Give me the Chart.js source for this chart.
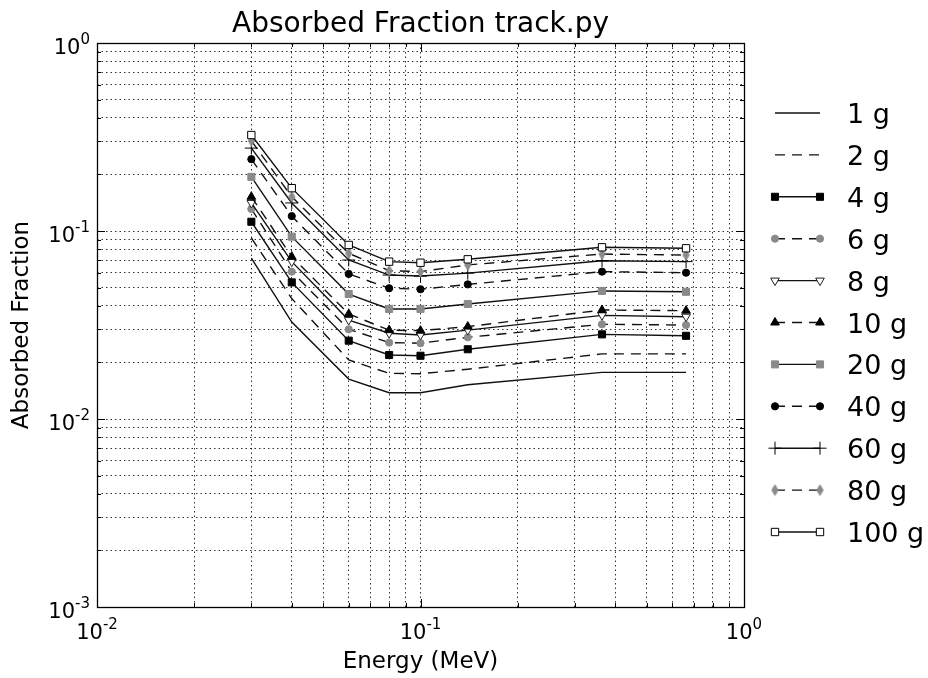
<!DOCTYPE html>
<html>
<head>
<meta charset="utf-8">
<script src="https://cdn.jsdelivr.net/npm/chart.js@4/dist/chart.umd.min.js"></script>
<style>
html,body{margin:0;padding:0;background:#fff;}
canvas{display:block;}
</style>
</head>
<body>
<canvas id="c" width="928" height="678"></canvas>
<script>
// ---------- DATA ----------
const energies = [0.03, 0.04, 0.06, 0.08, 0.1, 0.14, 0.364, 0.662];
const seriesNames = ['1 g','2 g','4 g','6 g','8 g','10 g','20 g','40 g','60 g','80 g','100 g'];
const af1g   = [0.0718, 0.0328, 0.0163, 0.0138, 0.0138, 0.0152, 0.0177, 0.0177];
const af2g   = [0.0918, 0.0437, 0.0206, 0.0175, 0.0174, 0.0184, 0.0222, 0.0222];
const af4g   = [0.112, 0.0533, 0.0261, 0.0219, 0.0217, 0.0235, 0.0282, 0.0277];
const af6g   = [0.131, 0.0608, 0.0300, 0.0255, 0.0253, 0.0272, 0.0319, 0.0316];
const af8g   = [0.141, 0.0687, 0.0336, 0.0286, 0.0280, 0.0297, 0.0356, 0.0350];
const af10g  = [0.152, 0.0730, 0.0362, 0.0297, 0.0295, 0.0310, 0.0380, 0.0377];
const af20g  = [0.194, 0.0933, 0.0462, 0.0385, 0.0385, 0.0409, 0.0480, 0.0475];
const af40g  = [0.241, 0.120, 0.0591, 0.0496, 0.0490, 0.0520, 0.0608, 0.0600];
const af60g  = [0.276, 0.141, 0.0701, 0.0583, 0.0576, 0.0597, 0.0695, 0.0687];
const af80g  = [0.302, 0.152, 0.0761, 0.0615, 0.0608, 0.0660, 0.0754, 0.0745];
const af100g = [0.324, 0.169, 0.0843, 0.0687, 0.0678, 0.0707, 0.0819, 0.0809];
const seriesValues = [af1g, af2g, af4g, af6g, af8g, af10g, af20g, af40g, af60g, af80g, af100g];

const xTickValues = [0.01, 0.1, 1];
const xTickBase   = ['10', '10', '10'];
const xTickExp    = ['-2', '-1', '0'];
const yTickValues = [0.001, 0.01, 0.1, 1];
const yTickBase   = ['10', '10', '10', '10'];
const yTickExp    = ['-3', '-2', '-1', '0'];

const titleText = 'Absorbed Fraction track.py';
const xTitle = 'Energy (MeV)';
const yTitle = 'Absorbed Fraction';

// ---------- STYLES ----------
const FONT = "'DejaVu Sans', sans-serif";
const GRAY = '#8a8a8a';
const DASH = [10, 7];

function thinDiamond(color) {
  const c = document.createElement('canvas');
  c.width = 9; c.height = 13;
  const g = c.getContext('2d');
  g.fillStyle = color;
  g.beginPath();
  g.moveTo(4.5, 0.5); g.lineTo(8.2, 6.5); g.lineTo(4.5, 12.5); g.lineTo(0.8, 6.5);
  g.closePath(); g.fill();
  return c;
}

const seriesStyles = [
  {dash: [], point: false},
  {dash: DASH, point: false},
  {dash: [], point: 'rect', fill: '#000', edge: '#000', r: 5},
  {dash: DASH, point: 'circle', fill: GRAY, edge: GRAY, r: 3.6},
  {dash: [], point: 'triangle', rot: 180, fill: '#fff', edge: '#222', r: 5},
  {dash: DASH, point: 'triangle', fill: '#000', edge: '#000', r: 5},
  {dash: [], point: 'rect', fill: GRAY, edge: GRAY, r: 5},
  {dash: DASH, point: 'circle', fill: '#000', edge: '#000', r: 3.6},
  {dash: [], point: 'cross', fill: '#000', edge: '#000', r: 6.5},
  {dash: DASH, point: thinDiamond(GRAY), fill: GRAY, edge: GRAY, r: 5},
  {dash: [], point: 'rect', fill: '#fff', edge: '#000', r: 5.2}
];

const N = seriesNames.length;
const datasets = seriesNames.map((name, i) => {
  const st = seriesStyles[i];
  return {
    label: name,
    data: energies.map((e, k) => ({x: e, y: seriesValues[i][k]})),
    borderColor: '#111',
    borderWidth: 1.4,
    borderDash: st.dash,
    fill: false,
    tension: 0,
    pointStyle: st.point || 'circle',
    pointRadius: st.point ? st.r : 0,
    pointHoverRadius: st.point ? st.r : 0,
    pointRotation: st.rot || 0,
    pointBackgroundColor: st.fill || '#000',
    pointBorderColor: st.edge || '#000',
    pointBorderWidth: 1,
    order: N - i
  };
});

function logTicks(minExp, maxExp) {
  const out = [];
  for (let e = minExp; e < maxExp; e++) {
    for (let m = 1; m <= 9; m++) out.push({value: Number((m * Math.pow(10, e)).toPrecision(12))});
  }
  out.push({value: Math.pow(10, maxExp)});
  return out;
}

const gridOpts = {color: 'rgba(0,0,0,0.8)', lineWidth: 1, drawTicks: false};
const borderOpts = {display: false, dash: [1.5, 3]};

const decor = {
  id: 'decor',
  afterDraw(chart) {
    const ctx = chart.ctx;
    const a = chart.chartArea;
    const xs = chart.scales.x, ys = chart.scales.y;
    ctx.save();
    // inward ticks
    ctx.strokeStyle = '#000';
    ctx.lineWidth = 1;
    ctx.setLineDash([]);
    xs.ticks.forEach(t => {
      const px = Math.round(xs.getPixelForValue(t.value)) + 0.5;
      const major = Math.abs(Math.log10(t.value) - Math.round(Math.log10(t.value))) < 1e-9;
      const L = major ? 8 : 4;
      ctx.beginPath();
      ctx.moveTo(px, a.bottom); ctx.lineTo(px, a.bottom - L);
      ctx.moveTo(px, a.top); ctx.lineTo(px, a.top + L);
      ctx.stroke();
    });
    ys.ticks.forEach(t => {
      const py = Math.round(ys.getPixelForValue(t.value)) + 0.5;
      const major = Math.abs(Math.log10(t.value) - Math.round(Math.log10(t.value))) < 1e-9;
      const L = major ? 8 : 4;
      ctx.beginPath();
      ctx.moveTo(a.left, py); ctx.lineTo(a.left + L, py);
      ctx.moveTo(a.right, py); ctx.lineTo(a.right - L, py);
      ctx.stroke();
    });
    // frame
    ctx.lineWidth = 1.3;
    ctx.strokeRect(Math.round(a.left) + 0.5, Math.round(a.top) + 0.5, Math.round(a.right - a.left), Math.round(a.bottom - a.top));

    // tick labels
    ctx.fillStyle = '#000';
    const bigF = '21px ' + FONT, supF = '15px ' + FONT;
    xTickValues.forEach((v, i) => {
      const px = xs.getPixelForValue(v);
      ctx.font = bigF; const w1 = ctx.measureText(xTickBase[i]).width;
      ctx.font = supF; const w2 = ctx.measureText(xTickExp[i]).width;
      const x0 = px - (w1 + w2) / 2;
      ctx.textAlign = 'left'; ctx.textBaseline = 'alphabetic';
      ctx.font = bigF; ctx.fillText(xTickBase[i], x0, 639);
      ctx.font = supF; ctx.fillText(xTickExp[i], x0 + w1, 629);
    });
    yTickValues.forEach((v, i) => {
      const py = ys.getPixelForValue(v);
      ctx.font = bigF; const w1 = ctx.measureText(yTickBase[i]).width;
      ctx.font = supF; const w2 = ctx.measureText(yTickExp[i]).width;
      const xr = a.left - 7;
      const x0 = xr - w1 - w2;
      ctx.textAlign = 'left'; ctx.textBaseline = 'alphabetic';
      ctx.font = bigF; ctx.fillText(yTickBase[i], x0, py + 11);
      ctx.font = supF; ctx.fillText(yTickExp[i], x0 + w1, py + 1);
    });

    // title
    ctx.font = '28px ' + FONT;
    ctx.textAlign = 'center';
    ctx.fillText(titleText, (a.left + a.right) / 2, 32);

    // legend
    const lx1 = 775, lx2 = 820, tx = 847, y0 = 113, dy = 41.9;
    chart.data.datasets.forEach((ds, i) => {
      const y = y0 + i * dy;
      const st = seriesStyles[i];
      ctx.save();
      ctx.strokeStyle = ds.borderColor;
      ctx.lineWidth = ds.borderWidth;
      ctx.setLineDash(st.dash);
      ctx.beginPath();
      ctx.moveTo(lx1, y); ctx.lineTo(lx2, y);
      ctx.stroke();
      ctx.restore();
      if (st.point) {
        [lx1, lx2].forEach(px => {
          ctx.save();
          ctx.setLineDash([]);
          ctx.fillStyle = st.fill; ctx.strokeStyle = st.edge; ctx.lineWidth = 1;
          if (Chart.helpers && Chart.helpers.drawPoint) {
            Chart.helpers.drawPoint(ctx, {pointStyle: st.point, radius: st.r, rotation: st.rot || 0, borderWidth: 1}, px, y);
          } else {
            ctx.beginPath(); ctx.arc(px, y, st.r, 0, Math.PI * 2); ctx.fill(); ctx.stroke();
          }
          ctx.restore();
        });
      }
      ctx.fillStyle = '#000';
      ctx.font = '27px ' + FONT;
      ctx.textAlign = 'left';
      ctx.textBaseline = 'alphabetic';
      ctx.fillText(ds.label, tx, y + 10);
    });
    ctx.restore();
  }
};

new Chart(document.getElementById('c'), {
  type: 'line',
  data: {datasets},
  options: {
    responsive: false,
    animation: false,
    events: [],
    layout: {padding: {top: 43, right: 184, left: 0, bottom: 0}},
    plugins: {legend: {display: false}, tooltip: {enabled: false}, title: {display: false}},
    scales: {
      x: {
        type: 'logarithmic', min: 0.01, max: 1, position: 'bottom',
        afterBuildTicks(s) { s.ticks = logTicks(-2, 0); },
        afterFit(s) { s.height = 71; },
        ticks: {display: false},
        grid: gridOpts, border: borderOpts,
        title: {display: true, text: xTitle, color: '#000', font: {family: 'DejaVu Sans', size: 23}, padding: {top: 0, bottom: 2}}
      },
      y: {
        type: 'logarithmic', min: 0.001, max: 1, position: 'left',
        afterBuildTicks(s) { s.ticks = logTicks(-3, 0); },
        afterFit(s) { s.width = 97; },
        ticks: {display: false},
        grid: gridOpts, border: borderOpts,
        title: {display: true, text: yTitle, color: '#000', font: {family: 'DejaVu Sans', size: 23}, padding: {top: 8, bottom: 0}}
      }
    }
  },
  plugins: [decor]
});
</script>
</body>
</html>
